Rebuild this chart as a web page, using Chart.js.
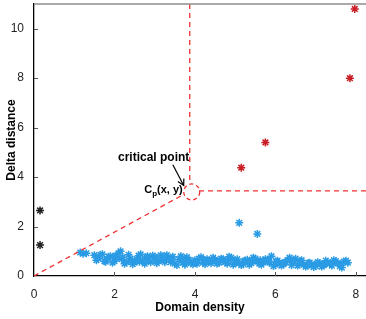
<!DOCTYPE html>
<html>
<head>
<meta charset="utf-8">
<script src="https://cdn.jsdelivr.net/npm/chart.js@4/dist/chart.umd.min.js"></script>
<style>
  html, body { margin: 0; padding: 0; background: #fff; }
  #wrap { width: 366px; height: 319px; }
</style>
</head>
<body>
<div id="wrap"><canvas id="grafico" width="366" height="319"></canvas></div>
<script>
// eixos
const ticksX = [0, 2, 4, 6, 8];
const ticksY = [0, 2, 4, 6, 8, 10];

// pontos isolados (vermelhos, pretos, azuis)
const vermelhoX = [5.15, 5.75, 7.85, 7.97];
const vermelhoY = [4.38, 5.4, 8.0, 10.8];
const pretoX = [0.15, 0.15];
const pretoY = [2.65, 1.25];
const azulSoltoX = [5.1, 5.55];
const azulSoltoY = [2.15, 1.7];

// nuvem azul
const nuvemX = [1.15, 1.22, 1.3,
  1.5, 1.6, 1.7, 1.8, 1.9, 2.0, 2.1, 2.2, 2.3, 2.4, 2.5, 2.6, 2.7, 2.8, 2.9, 3.0,
  3.1, 3.2, 3.3, 3.4, 3.5, 3.6, 3.7, 3.8, 3.9, 4.0, 4.1, 4.2, 4.3, 4.4, 4.5, 4.6,
  4.7, 4.8, 4.9, 5.0, 5.1, 5.2, 5.3, 5.4, 5.5, 5.6, 5.7, 5.8, 5.9, 6.0, 6.1, 6.2,
  6.3, 6.4, 6.5, 6.6, 6.7, 6.8, 6.9, 7.0, 7.1, 7.2, 7.3, 7.4, 7.5, 7.6, 7.7, 7.8,
  1.55, 1.65, 1.75, 1.85, 1.95, 2.05, 2.15, 2.25, 2.35, 2.45, 2.55, 2.65, 2.75, 2.85,
  2.95, 3.05, 3.15, 3.25, 3.35, 3.45, 3.55, 3.65, 3.75, 3.85, 3.95, 4.05, 4.15, 4.25,
  4.35, 4.45, 4.55, 4.65, 4.75, 4.85, 4.95, 5.05, 5.15, 5.25, 5.35, 5.45, 5.55, 5.65,
  5.75, 5.85, 5.95, 6.05, 6.15, 6.25, 6.35, 6.45, 6.55, 6.65, 6.75, 6.85, 6.95, 7.05,
  7.15, 7.25, 7.35, 7.45, 7.55, 7.65, 7.75,
  1.58, 1.78, 2.02, 2.18, 2.38, 2.62, 2.82, 3.02, 3.22, 3.42, 3.68, 3.82, 4.02, 4.22,
  4.42, 4.62, 4.82, 5.02, 5.22, 5.42, 5.62, 5.82, 6.02, 6.22, 6.42, 6.62, 6.82, 7.02,
  7.22, 7.42, 7.62];
const nuvemY = [0.95, 0.9, 0.92,
  0.84, 0.70, 0.88, 0.66, 0.80, 0.60, 0.92, 0.76, 0.56, 0.70, 0.54, 0.82, 0.62, 0.74, 0.56, 0.78,
  0.60, 0.70, 0.84, 0.56, 0.50, 0.66, 0.54, 0.76, 0.52, 0.64, 0.70, 0.54, 0.68, 0.52, 0.66, 0.54,
  0.68, 0.50, 0.74, 0.62, 0.52, 0.48, 0.66, 0.52, 0.70, 0.50, 0.56, 0.66, 0.80, 0.46, 0.54, 0.48,
  0.64, 0.44, 0.70, 0.52, 0.46, 0.42, 0.46, 0.40, 0.52, 0.44, 0.56, 0.42, 0.60, 0.40, 0.58, 0.54,
  0.64, 0.86, 0.60, 0.78, 0.54, 0.72, 1.0, 0.50, 0.86, 0.48, 0.68, 0.88, 0.50, 0.64,
  0.82, 0.52, 0.84, 0.56, 0.68, 0.78, 0.44, 0.80, 0.46, 0.64, 0.48, 0.50, 0.76, 0.48,
  0.62, 0.74, 0.50, 0.70, 0.56, 0.78, 0.46, 0.68, 0.44, 0.62, 0.46, 0.74, 0.58, 0.46,
  0.68, 0.54, 0.40, 0.62, 0.42, 0.56, 0.74, 0.60, 0.42, 0.64, 0.38, 0.54, 0.36, 0.56,
  0.38, 0.62, 0.50, 0.64, 0.52, 0.34, 0.62,
  0.74, 0.58, 0.82, 0.68, 0.62, 0.58, 0.80, 0.66, 0.76, 0.70, 0.72, 0.60, 0.56, 0.66,
  0.60, 0.62, 0.64, 0.54, 0.60, 0.62, 0.64, 0.60, 0.58, 0.54, 0.58, 0.60, 0.52, 0.50,
  0.48, 0.52, 0.50];

// linhas tracejadas e ponto crítico
const verticalX = [3.87, 3.87];
const verticalY = [11, 3.72];
const horizontalX = [4.1, 8.25];
const horizontalY = [3.44, 3.44];
const diagonalX = [0, 3.72];
const diagonalY = [0, 3.3];
const pontoCritico = { x: 3.92, y: 3.4 };
const setaDe = { x: 3.45, y: 4.5 };
const setaPara = { x: 3.72, y: 3.66 };

const fonte = "'Liberation Sans', Arial, sans-serif";
const azul = '#2a9be4';
const vermelho = '#c81e24';
const tracejado = '#f03030';

const pares = (xs, ys) => xs.map((x, i) => ({ x, y: ys[i] }));

const pontos = (dados, cor) => ({
  data: dados,
  pointStyle: 'star',
  pointRadius: 4,
  borderColor: cor,
  backgroundColor: cor,
  pointBorderWidth: 1.5,
  showLine: false
});

const linha = dados => ({
  data: dados,
  showLine: true,
  borderColor: tracejado,
  borderWidth: 1.3,
  borderDash: [5, 4],
  pointRadius: 0,
  fill: false
});

const semPadding = s => {
  s.paddingTop = 0; s.paddingBottom = 0; s.paddingLeft = 0; s.paddingRight = 0;
};

// decoração: borda de cima, ticks para dentro, círculo, seta e textos
const extras = {
  id: 'extras',
  afterDatasetsDraw(chart) {
    const { ctx, chartArea: a, scales: { x, y } } = chart;
    ctx.save();
    ctx.strokeStyle = '#8c8c8c';
    ctx.lineWidth = 1.5;
    ctx.beginPath();
    ctx.moveTo(a.left, a.top);
    ctx.lineTo(a.right, a.top);
    ctx.stroke();

    ctx.strokeStyle = '#555';
    ctx.lineWidth = 1;
    ticksX.slice(1).forEach(v => {
      const px = Math.round(x.getPixelForValue(v)) + 0.5;
      ctx.beginPath(); ctx.moveTo(px, a.bottom); ctx.lineTo(px, a.bottom - 4); ctx.stroke();
    });
    ticksY.slice(1).forEach(v => {
      const py = Math.round(y.getPixelForValue(v)) + 0.5;
      ctx.beginPath(); ctx.moveTo(a.left, py); ctx.lineTo(a.left + 4, py); ctx.stroke();
    });

    // círculo tracejado
    const cx = x.getPixelForValue(pontoCritico.x), cy = y.getPixelForValue(pontoCritico.y);
    ctx.strokeStyle = tracejado;
    ctx.lineWidth = 1.3;
    ctx.setLineDash([4, 3]);
    ctx.beginPath(); ctx.arc(cx, cy, 8, 0, Math.PI * 2); ctx.stroke();
    ctx.setLineDash([]);

    // seta
    const x1 = x.getPixelForValue(setaDe.x), y1 = y.getPixelForValue(setaDe.y);
    const x2 = x.getPixelForValue(setaPara.x), y2 = y.getPixelForValue(setaPara.y);
    const ang = Math.atan2(y2 - y1, x2 - x1);
    ctx.strokeStyle = '#000';
    ctx.lineWidth = 1.2;
    ctx.beginPath(); ctx.moveTo(x1, y1); ctx.lineTo(x2, y2); ctx.stroke();
    ctx.beginPath();
    ctx.moveTo(x2 - 7 * Math.cos(ang - 0.5), y2 - 7 * Math.sin(ang - 0.5));
    ctx.lineTo(x2, y2);
    ctx.lineTo(x2 - 7 * Math.cos(ang + 0.5), y2 - 7 * Math.sin(ang + 0.5));
    ctx.stroke();

    // textos
    ctx.fillStyle = '#000';
    ctx.font = 'bold 12px ' + fonte;
    ctx.textAlign = 'right';
    ctx.textBaseline = 'middle';
    ctx.fillText('critical point', x.getPixelForValue(3.86), y.getPixelForValue(4.78));

    const tx = cx - 9, ty = cy - 2;
    ctx.font = 'bold 11px ' + fonte;
    ctx.fillText('(x, y)', tx, ty);
    const w1 = ctx.measureText('(x, y)').width;
    ctx.font = 'bold 8px ' + fonte;
    ctx.fillText('p', tx - w1, ty + 4);
    const w2 = ctx.measureText('p').width;
    ctx.font = 'bold 11px ' + fonte;
    ctx.fillText('C', tx - w1 - w2, ty);
    ctx.restore();
  }
};

new Chart(document.getElementById('grafico'), {
  type: 'scatter',
  data: {
    datasets: [
      linha(pares(verticalX, verticalY)),
      linha(pares(horizontalX, horizontalY)),
      linha(pares(diagonalX, diagonalY)),
      pontos(pares(nuvemX, nuvemY), azul),
      pontos(pares(azulSoltoX, azulSoltoY), azul),
      pontos(pares(pretoX, pretoY), '#222'),
      pontos(pares(vermelhoX, vermelhoY), vermelho)
    ]
  },
  plugins: [extras],
  options: {
    responsive: false,
    animation: false,
    layout: { autoPadding: false, padding: { top: 4, right: 0, left: 0, bottom: 0 } },
    plugins: { legend: { display: false }, tooltip: { enabled: false } },
    scales: {
      x: {
        type: 'linear',
        min: 0,
        max: 8.25,
        afterBuildTicks: s => { s.ticks = ticksX.map(v => ({ value: v })); },
        afterFit: s => { s.height = 43; semPadding(s); },
        grid: { display: false, drawTicks: false },
        border: { color: '#000', width: 1.3 },
        ticks: { color: '#222', padding: 11, font: { family: fonte, size: 12 } },
        title: { display: true, text: 'Domain density', color: '#000', padding: { top: 0 }, font: { family: fonte, size: 12, weight: 'bold' } }
      },
      y: {
        type: 'linear',
        min: 0,
        max: 11,
        afterBuildTicks: s => { s.ticks = ticksY.map(v => ({ value: v })); },
        afterFit: s => { s.width = 34; semPadding(s); },
        grid: { display: false, drawTicks: false },
        border: { color: '#000', width: 1.3 },
        ticks: { color: '#222', padding: 10, font: { family: fonte, size: 12 } },
        title: { display: true, text: 'Delta distance', color: '#000', padding: { bottom: 0 }, font: { family: fonte, size: 12, weight: 'bold' } }
      }
    }
  }
});
</script>
</body>
</html>
